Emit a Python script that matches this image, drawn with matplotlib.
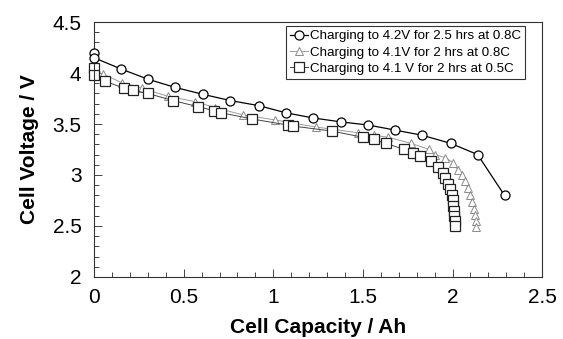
import numpy as np
import matplotlib
matplotlib.use("Agg")
import matplotlib.pyplot as plt
from matplotlib.ticker import MultipleLocator

plt.rcParams['font.family'] = ['Liberation Sans', 'DejaVu Sans']

# Charging to 4.2V for 2.5 hrs at 0.8C
cap_42 = [0, 0, 0.15, 0.30, 0.45, 0.61, 0.76, 0.92, 1.07, 1.22, 1.38, 1.53,
          1.68, 1.83, 1.99, 2.14, 2.29]
v_42 = [4.20, 4.15, 4.04, 3.94, 3.86, 3.79, 3.73, 3.68, 3.61, 3.56, 3.52, 3.49,
        3.44, 3.39, 3.31, 3.20, 2.80]

# Charging to 4.1V for 2 hrs at 0.8C
cap_41_08 = [0, 0.05, 0.155, 0.27, 0.415, 0.565, 0.675, 0.83, 1.01, 1.24, 1.47,
             1.56, 1.64, 1.77, 1.87, 1.90, 1.96, 2.005, 2.03, 2.05, 2.07, 2.085,
             2.10, 2.11, 2.12, 2.125, 2.13, 2.13]
v_41_08 = [4.02, 3.99, 3.905, 3.85, 3.77, 3.72, 3.66, 3.59, 3.54, 3.47, 3.415,
           3.39, 3.37, 3.31, 3.25, 3.20, 3.17, 3.12, 3.05, 3.00, 2.94, 2.87,
           2.80, 2.74, 2.67, 2.61, 2.55, 2.49]

# Charging to 4.1 V for 2 hrs at 0.5C
cap_41_05 = [0, 0, 0.06, 0.17, 0.22, 0.30, 0.44, 0.58, 0.67, 0.71, 0.88, 1.08,
             1.11, 1.33, 1.50, 1.56, 1.63, 1.73, 1.78, 1.82, 1.88, 1.92, 1.945,
             1.96, 1.975, 1.985, 1.995, 2.0, 2.005, 2.008, 2.01, 2.012, 2.013]
v_41_05 = [4.05, 3.98, 3.92, 3.85, 3.83, 3.80, 3.73, 3.67, 3.63, 3.61, 3.55, 3.49,
           3.48, 3.43, 3.37, 3.35, 3.31, 3.25, 3.22, 3.19, 3.14, 3.08, 3.02,
           2.97, 2.91, 2.86, 2.80, 2.75, 2.70, 2.65, 2.60, 2.55, 2.50]

fig = plt.figure(figsize=(5.63, 3.39), dpi=100)
ax = fig.add_axes([0.167, 0.183, 0.796, 0.752])

ax.plot(cap_42, v_42, color='black', lw=0.9, marker='o', ms=6.5,
        mfc='white', mec='black', mew=0.9, clip_on=False,
        label="Charging to 4.2V for 2.5 hrs at 0.8C", zorder=3)
ax.plot(cap_41_08, v_41_08, color='#9a9a9a', lw=0.7, marker='^', ms=6,
        mfc='white', mec='#8a8a8a', mew=0.7, clip_on=False,
        label="Charging to 4.1V for 2 hrs at 0.8C", zorder=2)
ax.plot(cap_41_05, v_41_05, color='#444444', lw=0.7, marker='s', ms=6.5,
        mfc='white', mec='#222222', mew=0.9, clip_on=False,
        label="Charging to 4.1 V for 2 hrs at 0.5C", zorder=2)

ax.set_xlim(0, 2.5)
ax.set_ylim(2, 4.5)
ax.xaxis.set_major_locator(MultipleLocator(0.5))
ax.xaxis.set_minor_locator(MultipleLocator(0.1))
ax.yaxis.set_major_locator(MultipleLocator(0.5))
ax.yaxis.set_minor_locator(MultipleLocator(0.1))
ax.xaxis.set_major_formatter(plt.FuncFormatter(lambda v, p: f"{v:g}"))
ax.yaxis.set_major_formatter(plt.FuncFormatter(lambda v, p: f"{v:g}"))
ax.tick_params(which='both', direction='in', top=False, right=False,
               labelsize=15, width=0.7, color='#444444')
ax.tick_params(axis='x', pad=8)
ax.tick_params(axis='y', pad=9)
ax.tick_params(which='major', length=6)
ax.tick_params(which='minor', length=3.5)
for s in ax.spines.values():
    s.set_linewidth(0.8)
    s.set_color('#333333')

ax.set_xlabel("Cell Capacity / Ah", fontsize=15, fontweight='bold', labelpad=8)
ax.set_ylabel("Cell Voltage / V", fontsize=15, fontweight='bold', labelpad=10)

leg = ax.legend(loc='upper right', fontsize=9.6, frameon=True, fancybox=False,
                edgecolor='black', handlelength=1.3, handletextpad=0.15,
                borderpad=0.3, labelspacing=0.3, borderaxespad=0.3,
                bbox_to_anchor=(0.97, 1.0))
leg.get_frame().set_linewidth(0.8)

fig.savefig("out.png", dpi=100)
